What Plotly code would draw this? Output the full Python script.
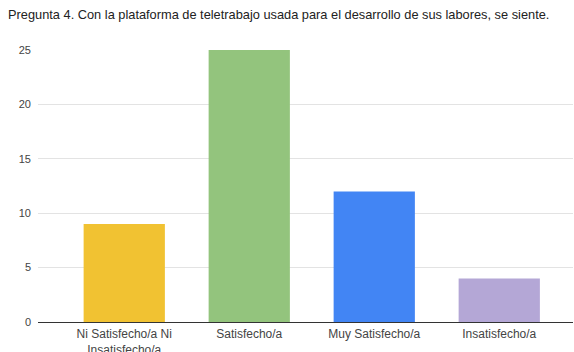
import plotly.graph_objects as go

# Survey answers and response counts
categories = ["Ni Satisfecho/a Ni<br>Insatisfecho/a", "Satisfecho/a", "Muy Satisfecho/a", "Insatisfecho/a"]
counts = [9, 25, 12, 4]
bar_colors = ["#f1c232", "#93c47d", "#4285f4", "#b4a7d6"]
y_ticks = [0, 5, 10, 15, 20, 25]
title_text = "Pregunta 4. Con la plataforma de teletrabajo usada para el desarrollo de sus labores, se siente."

fig = go.Figure(
    go.Bar(
        x=list(range(len(categories))),
        y=counts,
        marker=dict(color=bar_colors, line=dict(width=0)),
        width=0.65,
        hoverinfo="y",
    )
)

fig.update_layout(
    width=574,
    height=352,
    margin=dict(l=38, r=1, t=50, b=30, autoexpand=False),
    paper_bgcolor="white",
    plot_bgcolor="white",
    font=dict(family="Liberation Sans, Arial, sans-serif", size=11, color="#444444"),
    showlegend=False,
    title=dict(
        text=title_text,
        x=0.014,
        xanchor="left",
        y=0.96,
        yanchor="middle",
        font=dict(size=12.8, color="#222222"),
    ),
)

fig.update_xaxes(
    tickmode="array",
    tickvals=list(range(len(categories))),
    ticktext=categories,
    range=[-0.69, 3.59],
    automargin=False,
    showgrid=False,
    showline=False,
    zeroline=False,
    ticks="",
    ticklabelstandoff=3,
    tickfont=dict(size=12, color="#444444"),
)

fig.update_yaxes(
    range=[0, 25],
    tickvals=y_ticks,
    automargin=False,
    showgrid=True,
    gridcolor="#e3e3e3",
    gridwidth=1,
    zeroline=True,
    zerolinecolor="#333333",
    zerolinewidth=1,
    showline=False,
    ticks="",
    ticklabelstandoff=6,
    tickfont=dict(size=11, color="#444444"),
)

fig.write_html("out.html")
